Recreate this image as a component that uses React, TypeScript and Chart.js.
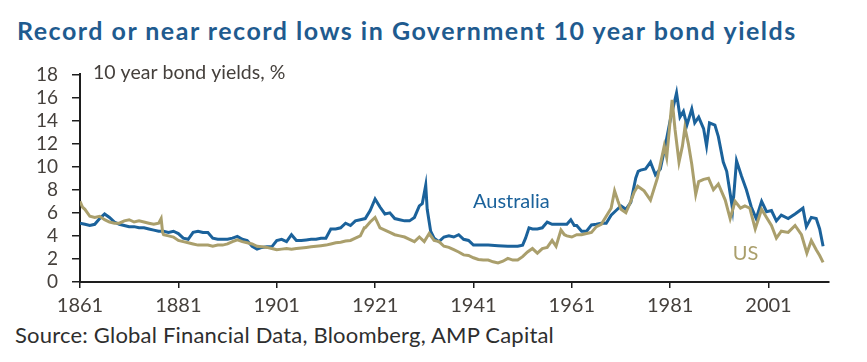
import React, { useEffect, useRef } from "react";
import { Chart, registerables } from "chart.js";

Chart.register(...registerables);

const TITLE = "Record or near record lows in Government 10 year bond yields";
const SOURCE = "Source: Global Financial Data, Bloomberg, AMP Capital";
const AXIS_NOTE = "10 year bond yields, %";

const xTickYears = [1861, 1881, 1901, 1921, 1941, 1961, 1981, 2001];
const yTicks = [0, 2, 4, 6, 8, 10, 12, 14, 16, 18];

const ausYears = [
  1861, 1862, 1863, 1864, 1865, 1866, 1867, 1868, 1869, 1870, 1871, 1872, 1873, 1874, 1875, 1876, 1877, 1878, 1879, 1880,
  1881, 1882, 1883, 1884, 1885, 1886, 1887, 1888, 1889, 1890, 1891, 1892, 1893, 1894, 1895, 1896, 1897, 1898, 1899, 1900,
  1901, 1902, 1903, 1904, 1905, 1906, 1907, 1908, 1909, 1910, 1911, 1912, 1913, 1914, 1915, 1916, 1917, 1918, 1919, 1920,
  1921, 1922, 1923, 1924, 1925, 1926, 1927, 1928, 1929, 1930, 1930.6, 1931.3, 1931.6, 1932.3, 1933, 1934, 1935, 1936, 1937, 1938,
  1939, 1940, 1941, 1942, 1944, 1946, 1948, 1950, 1951, 1951.6, 1952.3, 1953, 1954, 1955, 1956, 1957, 1958, 1959, 1960, 1960.8,
  1961.5, 1962, 1963, 1964, 1965, 1966, 1967, 1968, 1969, 1970, 1971, 1972, 1973, 1974, 1974.5, 1975, 1976, 1977, 1978, 1979,
  1980, 1981, 1982.3, 1983, 1983.7, 1984.4, 1985.4, 1986, 1986.8, 1987.8, 1988.4, 1989, 1990.1, 1990.8, 1991.8, 1992.5, 1993.7, 1994.5, 1995.5, 1996.5,
  1997.5, 1998.5, 1999.6, 2000.6, 2001.6, 2002.6, 2003.6, 2005, 2006.4, 2008, 2008.7, 2009.7, 2010.7, 2011.4, 2012.1,
];
const ausYields = [
  5.1, 5.0, 4.9, 5.0, 5.5, 5.9, 5.6, 5.2, 5.0, 4.9, 4.8, 4.8, 4.7, 4.7, 4.6, 4.5, 4.4, 4.4, 4.3, 4.4,
  4.2, 3.8, 3.7, 4.3, 4.4, 4.3, 4.3, 3.8, 3.7, 3.7, 3.7, 3.8, 3.95, 3.7, 3.6, 3.1, 2.85, 3.0, 3.05, 3.05,
  3.6, 3.7, 3.5, 4.1, 3.6, 3.6, 3.65, 3.7, 3.7, 3.8, 3.8, 4.6, 4.6, 4.7, 5.1, 4.9, 5.3, 5.4, 5.5, 6.2,
  7.2, 6.5, 5.9, 6.0, 5.5, 5.4, 5.3, 5.3, 5.6, 6.6, 6.8, 8.4, 6.3, 4.4, 3.8, 3.5, 3.9, 4.0, 3.9, 4.1,
  3.7, 3.6, 3.2, 3.2, 3.2, 3.15, 3.1, 3.1, 3.2, 3.8, 4.7, 4.6, 4.6, 4.7, 5.2, 5.0, 5.0, 5.0, 5.0, 5.4,
  4.9, 4.9, 4.4, 4.4, 4.95, 5.0, 5.1, 5.1, 5.8, 6.2, 6.6, 6.3, 6.9, 9.0, 9.6, 9.7, 9.8, 10.4, 9.3, 9.8,
  11.8, 14.0, 16.4, 14.3, 14.8, 13.6, 15.0, 13.8, 14.3, 13.3, 11.8, 13.8, 13.6, 12.6, 10.4, 9.6, 6.3, 10.5, 9.2, 8.0,
  6.5, 5.5, 7.0, 6.1, 6.2, 5.3, 5.8, 5.5, 5.9, 6.4, 4.8, 5.6, 5.5, 4.6, 3.1,
];

const usYears = [
  1861, 1861.5, 1862, 1863, 1864, 1865, 1866, 1867, 1868, 1869, 1870, 1871, 1872, 1873, 1874, 1875, 1876, 1877, 1877.5, 1877.8,
  1878, 1879, 1880, 1881, 1882, 1883, 1884, 1885, 1886, 1887, 1888, 1889, 1890, 1891, 1892, 1893, 1894, 1895, 1896, 1897,
  1898, 1899, 1900, 1901, 1902, 1903, 1904, 1905, 1906, 1907, 1908, 1909, 1910, 1911, 1912, 1913, 1914, 1915, 1916, 1917,
  1918, 1918.8, 1919, 1920, 1921, 1922, 1923, 1924, 1925, 1926, 1927, 1928, 1929, 1930, 1931, 1932, 1933, 1934, 1935, 1936,
  1937, 1938, 1939, 1940, 1941, 1942, 1943, 1944, 1945, 1946, 1947, 1948, 1949, 1950, 1951, 1952, 1953, 1954, 1955, 1956,
  1957, 1957.8, 1958.8, 1959.5, 1960, 1961, 1962, 1963, 1964, 1965, 1966, 1967, 1968, 1969, 1969.7, 1970.4, 1971, 1972, 1973, 1973.7,
  1974.4, 1975.7, 1977, 1978.4, 1979.8, 1980.3, 1981.4, 1982, 1982.8, 1983.5, 1984, 1984.7, 1985.4, 1986.2, 1986.8, 1987.8, 1988.8, 1989.8, 1990.8, 1992.2,
  1993.2, 1994.2, 1995.3, 1996.2, 1997.2, 1998.3, 1999.6, 2000.6, 2001.6, 2002.6, 2003.6, 2005, 2006.4, 2007.7, 2008.8, 2009.7, 2010.7, 2011.4, 2012.1,
];
const usYields = [
  7.0, 6.5, 6.3, 5.7, 5.6, 5.7, 5.4, 5.2, 5.1, 5.1, 5.3, 5.4, 5.2, 5.3, 5.2, 5.1, 5.0, 5.1, 5.5, 4.3,
  4.1, 4.0, 3.9, 3.6, 3.5, 3.4, 3.3, 3.2, 3.2, 3.2, 3.1, 3.2, 3.2, 3.3, 3.5, 3.65, 3.5, 3.4, 3.3, 3.1,
  3.05, 3.0, 2.9, 2.8, 2.85, 2.9, 2.85, 2.9, 2.95, 3.0, 3.05, 3.1, 3.15, 3.2, 3.3, 3.4, 3.45, 3.55, 3.6, 3.8,
  4.0, 4.7, 4.7, 5.2, 5.6, 4.7, 4.5, 4.3, 4.1, 4.0, 3.9, 3.7, 3.5, 3.9, 3.5, 4.2, 3.6, 3.5, 3.1, 3.0,
  2.8, 2.6, 2.35, 2.3, 2.1, 1.95, 1.9, 1.9, 1.75, 1.65, 1.8, 2.05, 1.9, 1.9, 2.2, 2.6, 2.9, 2.5, 2.9, 3.0,
  3.6, 3.1, 4.5, 4.1, 4.0, 3.9, 4.1, 4.1, 4.2, 4.3, 4.8, 5.0, 5.7, 6.4, 7.9, 7.0, 6.3, 6.0, 7.0, 7.8,
  8.3, 7.9, 7.1, 9.0, 11.8, 10.8, 15.8, 13.2, 10.4, 11.8, 13.4, 12.0, 10.2, 7.6, 8.7, 8.9, 9.0, 8.0, 8.5, 7.1,
  5.5, 7.0, 6.4, 6.6, 6.4, 4.6, 6.3, 5.6, 4.9, 3.8, 4.4, 4.3, 4.9, 4.1, 2.5, 3.6, 2.8, 2.3, 1.7,
];

const AUS_COLOR = "#1b629b";
const US_COLOR = "#aa9f6c";
const TEXT_COLOR = "#45403c";

const labelPlugin = {
  id: "inlineLabels",
  afterDatasetsDraw(chart: any) {
    const { ctx, scales, chartArea } = chart;
    const x = scales.x;
    const y = scales.y;
    ctx.save();
    ctx.textBaseline = "alphabetic";
    ctx.textAlign = "left";
    ctx.font = "19.5px Lato";
    ctx.fillStyle = TEXT_COLOR;
    ctx.fillText(AXIS_NOTE, chartArea.left + 13, chartArea.top + 5);
    ctx.font = "20px Lato";
    ctx.fillStyle = AUS_COLOR;
    ctx.fillText("Australia", x.getPixelForValue(1940.9), y.getPixelForValue(6.43));
    ctx.fillStyle = US_COLOR;
    ctx.fillText("US", x.getPixelForValue(1993.75), y.getPixelForValue(1.91));
    ctx.restore();
  },
};

export default function App() {
  const canvasRef = useRef<HTMLCanvasElement | null>(null);

  useEffect(() => {
    if (!canvasRef.current) return;
    const chart = new Chart(canvasRef.current, {
      type: "line",
      data: {
        datasets: [
          {
            label: "US",
            data: usYears.map((yr, i) => ({ x: yr, y: usYields[i] })),
            borderColor: US_COLOR,
            borderWidth: 3,
            pointRadius: 0,
            tension: 0,
          },
          {
            label: "Australia",
            data: ausYears.map((yr, i) => ({ x: yr, y: ausYields[i] })),
            borderColor: AUS_COLOR,
            borderWidth: 3,
            pointRadius: 0,
            tension: 0,
          },
        ],
      },
      options: {
        animation: false,
        responsive: true,
        maintainAspectRatio: false,
        layout: { padding: { top: 8, right: 30, left: 0, bottom: 0 } },
        plugins: {
          legend: { display: false },
          tooltip: { enabled: false },
          title: { display: false },
        },
        scales: {
          x: {
            type: "linear",
            min: 1861,
            max: 2013.3,
            afterBuildTicks: (s: any) => {
              s.ticks = xTickYears.map((v) => ({ value: v }));
            },
            afterFit: (s: any) => {
              s.height = 36;
            },
            border: { display: true, color: "#1e1e1e", width: 2 },
            grid: { display: true, drawOnChartArea: false, drawTicks: true, tickLength: 6, color: "#1e1e1e", lineWidth: 1.5 },
            ticks: {
              font: { family: "Lato", size: 20 },
              color: TEXT_COLOR,
              padding: 6,
              maxRotation: 0,
              autoSkip: false,
              callback: (v: any) => String(v),
            },
          },
          y: {
            min: 0,
            max: 18,
            afterBuildTicks: (s: any) => {
              s.ticks = yTicks.map((v) => ({ value: v }));
            },
            afterFit: (s: any) => {
              s.width = 72;
            },
            border: { display: true, color: "#1e1e1e", width: 2 },
            grid: { display: true, drawOnChartArea: false, drawTicks: true, tickLength: 8, color: "#1e1e1e", lineWidth: 1.5 },
            ticks: {
              font: { family: "Lato", size: 19 },
              color: TEXT_COLOR,
              padding: 14,
              autoSkip: false,
            },
          },
        },
      },
      plugins: [labelPlugin],
    });
    return () => chart.destroy();
  }, []);

  return (
    <div style={{ position: "relative", width: 851, height: 346, fontFamily: "Lato" }}>
      <div
        style={{
          position: "absolute",
          left: 9,
          top: 10,
          fontSize: 25,
          lineHeight: 1,
          fontWeight: 700,
          letterSpacing: 1.5,
          color: "#1f5b8f",
          whiteSpace: "nowrap",
        }}
      >
        {TITLE}
      </div>
      <div style={{ position: "absolute", left: 0, top: 41, width: 851, height: 269 }}>
        <canvas ref={canvasRef} />
      </div>
      <div
        style={{
          position: "absolute",
          left: 7,
          top: 316,
          fontSize: 22,
          lineHeight: 1,
          letterSpacing: 0.2,
          color: "#2e2e2e",
          whiteSpace: "nowrap",
        }}
      >
        {SOURCE}
      </div>
    </div>
  );
}
